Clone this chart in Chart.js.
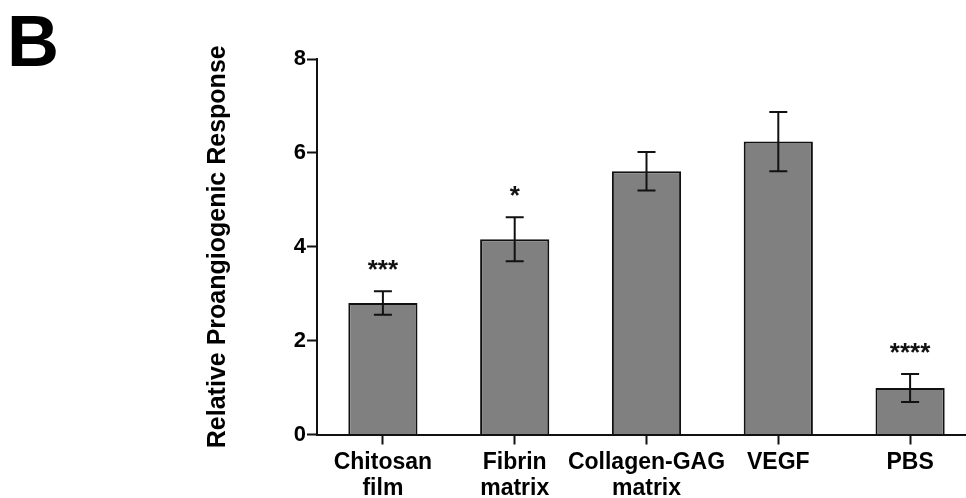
<!DOCTYPE html>
<html>
<head>
<meta charset="utf-8">
<script src="https://cdn.jsdelivr.net/npm/chart.js@4"></script>
<style>
  html, body { margin: 0; padding: 0; background: #fff; overflow: hidden; }
  #wrap { position: relative; width: 976px; height: 498px; }
</style>
</head>
<body>
<div id="wrap"><canvas id="c"></canvas></div>
<script>
// ---- data ----
const categories = [["Chitosan", "film"], ["Fibrin", "matrix"], ["Collagen-GAG", "matrix"], "VEGF", "PBS"];
const responseMeans = [2.80, 4.16, 5.61, 6.24, 0.99];
const responseErrors = [0.25, 0.47, 0.41, 0.63, 0.30];
const significance = ["***", "*", "", "", "****"];
const yTicks = [0, 2, 4, 6, 8];
const panelLabel = "B";
const yTitle = "Relative Proangiogenic Response";

const FONT = "'Liberation Sans', Arial, Helvetica, sans-serif";
const INK = "#111111";

const errorBarPlugin = {
  id: 'errorBars',
  afterDatasetsDraw(chart) {
    const ctx = chart.ctx;
    const meta = chart.getDatasetMeta(0);
    const y = chart.scales.y;
    ctx.save();
    ctx.strokeStyle = INK;
    ctx.lineWidth = 2;
    ctx.fillStyle = INK;
    ctx.font = "bold 26px " + FONT;
    ctx.textAlign = 'center';
    ctx.textBaseline = 'alphabetic';
    meta.data.forEach((bar, i) => {
      const m = responseMeans[i], e = responseErrors[i];
      const yt = y.getPixelForValue(m + e);
      const yb = y.getPixelForValue(m - e);
      const x = bar.x;
      const cap = 9;
      ctx.beginPath();
      ctx.moveTo(x, yt); ctx.lineTo(x, yb);
      ctx.moveTo(x - cap, yt); ctx.lineTo(x + cap, yt);
      ctx.moveTo(x - cap, yb); ctx.lineTo(x + cap, yb);
      ctx.stroke();
      if (significance[i]) {
        ctx.fillText(significance[i], x, yt - 13);
      }
    });
    ctx.restore();
  }
};

const panelPlugin = {
  id: 'panelLabel',
  afterDraw(chart) {
    const ctx = chart.ctx;
    ctx.save();
    ctx.fillStyle = '#000';
    ctx.font = "bold 72px " + FONT;
    ctx.textAlign = 'left';
    ctx.textBaseline = 'alphabetic';
    ctx.fillText(panelLabel, 7, 66);
    ctx.restore();
  }
};

new Chart(document.getElementById('c'), {
  type: 'bar',
  data: {
    labels: categories,
    datasets: [{
      data: responseMeans,
      backgroundColor: '#808080',
      borderColor: INK,
      borderWidth: 2,
      barPercentage: 0.525,
      categoryPercentage: 1.0
    }]
  },
  options: {
    responsive: true,
    maintainAspectRatio: false,
    animation: false,
    devicePixelRatio: 1,
    layout: { padding: { top: 59, right: 0, bottom: 0, left: 0 } },
    plugins: { legend: { display: false }, tooltip: { enabled: false } },
    scales: {
      x: {
        offset: true,
        grid: { offset: false, drawOnChartArea: false, drawTicks: true, tickLength: 10, tickColor: INK, tickWidth: 2 },
        border: { display: true, color: INK, width: 2 },
        ticks: {
          autoSkip: false, maxRotation: 0, minRotation: 0,
          color: '#000', padding: 6,
          font: { family: FONT, size: 23, weight: 'bold', lineHeight: 1.1 }
        },
        afterFit(scale) { scale.height = 63.5; }
      },
      y: {
        min: 0, max: 8,
        afterBuildTicks(scale) { scale.ticks = yTicks.map(v => ({ value: v })); },
        grid: { drawOnChartArea: false, drawTicks: true, tickLength: 10, tickColor: INK, tickWidth: 2 },
        border: { display: true, color: INK, width: 2 },
        ticks: {
          color: '#000', padding: 1,
          font: { family: FONT, size: 22, weight: 'bold' }
        },
        title: {
          display: true, text: yTitle, color: '#000',
          font: { family: FONT, size: 25, weight: 'bold', lineHeight: 1.2 },
          padding: { top: 203, bottom: 0 }
        },
        afterFit(scale) { scale.width = 317; }
      }
    }
  },
  plugins: [errorBarPlugin, panelPlugin]
});
</script>
</body>
</html>
